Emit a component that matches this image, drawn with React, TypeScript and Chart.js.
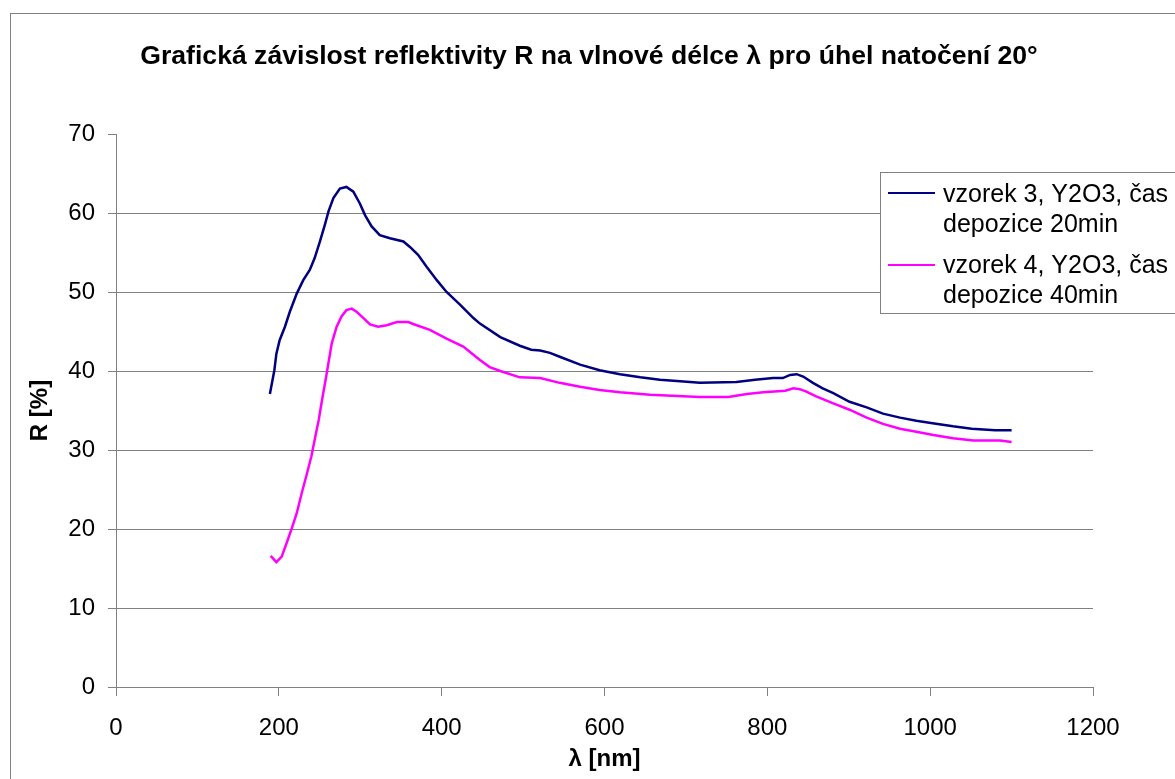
import React, { useEffect, useRef } from "react";
import { Chart, registerables } from "chart.js";

Chart.register(...registerables);

const FONT = "'Liberation Sans', Arial, Helvetica, sans-serif";

const titleText = "Grafická závislost reflektivity R na vlnové délce λ pro úhel natočení 20°";
const xAxisTitle = "λ [nm]";
const yAxisTitle = "R [%]";
const seriesNames: string[][] = [
  ["vzorek 3, Y2O3, čas", "depozice 20min"],
  ["vzorek 4, Y2O3, čas", "depozice 40min"],
];
const seriesColors = ["#000080", "#FF00FF"];

const xTicks = [0, 200, 400, 600, 800, 1000, 1200];
const yTicks = [0, 10, 20, 30, 40, 50, 60, 70];

// vzorek 3 (20 min)
const blueX = [
  189, 194.5, 197, 201, 207.5, 213.5, 222, 230, 238, 244, 250.5, 256.5, 261, 267, 275, 283,
  291.5, 299.5, 306, 314, 324, 336.5, 353, 361, 371, 381.5, 394, 406, 422.5, 439, 447, 472,
  496, 510, 521, 533, 545, 570, 594, 619, 644, 668, 693, 717, 762, 785, 807, 819, 828, 836,
  844, 856, 868, 881, 901, 922, 942, 963, 983, 1003, 1028, 1051, 1080, 1100,
];
const blueY = [
  37.1, 40.1, 42.2, 43.9, 45.6, 47.5, 49.8, 51.5, 52.8, 54.3, 56.4, 58.5, 60.2, 61.9, 63.1, 63.3,
  62.7, 61.2, 59.7, 58.3, 57.2, 56.8, 56.4, 55.7, 54.7, 53.2, 51.5, 50.0, 48.4, 46.7, 46.0, 44.3,
  43.2, 42.7, 42.6, 42.3, 41.8, 40.8, 40.1, 39.6, 39.2, 38.9, 38.7, 38.5, 38.6, 38.9, 39.1, 39.1, 39.5, 39.6,
  39.3, 38.5, 37.8, 37.2, 36.1, 35.4, 34.6, 34.1, 33.7, 33.4, 33.0, 32.7, 32.5, 32.5,
];

// vzorek 4 (40 min)
const pinkX = [
  190, 197, 203.5, 209.5, 216, 222, 228, 234, 240, 245, 249, 253, 258, 265, 271, 277, 283,
  289.5, 295.5, 304, 312, 322, 332.5, 345, 359, 365, 385.5, 406, 426.5, 447, 459, 472, 496,
  521, 545, 570, 594, 619, 656, 717, 752, 775, 795, 822, 832, 840, 848, 860, 881, 901, 922,
  942, 963, 983, 1004, 1028, 1053, 1086, 1100,
];
const pinkY = [
  16.6, 15.8, 16.5, 18.2, 20.1, 22.0, 24.5, 26.8, 29.2, 31.8, 33.8, 36.3, 39.2, 43.5, 45.6, 46.9, 47.7,
  47.9, 47.5, 46.7, 45.9, 45.6, 45.8, 46.2, 46.2, 45.95, 45.2, 44.1, 43.1, 41.4, 40.5, 40.0, 39.2,
  39.1, 38.5, 38.0, 37.6, 37.3, 37.0, 36.7, 36.7, 37.1, 37.3, 37.5, 37.8, 37.7, 37.4, 36.8, 35.9, 35.1, 34.1,
  33.3, 32.7, 32.3, 31.9, 31.5, 31.2, 31.2, 31.0,
];

const toPoints = (xs: number[], ys: number[]) => xs.map((x, i) => ({ x, y: ys[i] }));

const decorPlugin = {
  id: "decor",
  beforeDraw(chart: any) {
    const ctx = chart.ctx;
    ctx.save();
    ctx.fillStyle = "#ffffff";
    ctx.fillRect(0, 0, chart.width, chart.height);
    ctx.strokeStyle = "#808080";
    ctx.lineWidth = 1;
    ctx.strokeRect(10.5, 13.5, chart.width + 20, chart.height + 20);
    ctx.restore();
  },
  afterDraw(chart: any) {
    const ctx = chart.ctx;
    ctx.save();
    // title
    ctx.fillStyle = "#000";
    ctx.font = `bold 26.6px ${FONT}`;
    ctx.textAlign = "center";
    ctx.textBaseline = "alphabetic";
    ctx.fillText(titleText, 589, 64);
    // legend box
    ctx.fillStyle = "#ffffff";
    ctx.fillRect(880.5, 172.5, 320, 141);
    ctx.strokeStyle = "#808080";
    ctx.lineWidth = 1;
    ctx.strokeRect(880.5, 172.5, 320, 141);
    const entryTop = [193, 265];
    const baselines = [[201.7, 231.7], [272.7, 302.7]];
    ctx.font = `25px ${FONT}`;
    ctx.textAlign = "left";
    seriesNames.forEach((lines, i) => {
      ctx.strokeStyle = seriesColors[i];
      ctx.lineWidth = 2;
      ctx.beginPath();
      ctx.moveTo(888, entryTop[i]);
      ctx.lineTo(935, entryTop[i]);
      ctx.stroke();
      ctx.fillStyle = "#000";
      lines.forEach((t, j) => ctx.fillText(t, 943, baselines[i][j]));
    });
    ctx.restore();
  },
};

export default function App() {
  const ref = useRef<HTMLCanvasElement | null>(null);
  useEffect(() => {
    if (!ref.current) return;
    const chart = new Chart(ref.current, {
      type: "scatter",
      data: {
        datasets: [
          {
            label: seriesNames[0].join(" "),
            data: toPoints(blueX, blueY),
            showLine: true,
            borderColor: seriesColors[0],
            backgroundColor: seriesColors[0],
            borderWidth: 2.5,
            pointRadius: 0,
            tension: 0,
          },
          {
            label: seriesNames[1].join(" "),
            data: toPoints(pinkX, pinkY),
            showLine: true,
            borderColor: seriesColors[1],
            backgroundColor: seriesColors[1],
            borderWidth: 2.5,
            pointRadius: 0,
            tension: 0,
          },
        ],
      },
      options: {
        responsive: false,
        animation: false,
        devicePixelRatio: 1,
        layout: { padding: { left: 0, right: 82, top: 134, bottom: 0 } },
        plugins: {
          legend: { display: false },
          title: { display: false },
          tooltip: { enabled: false },
        },
        scales: {
          x: {
            type: "linear",
            min: 0,
            max: 1200,
            afterFit: (s: any) => {
              s.height = 92;
            },
            afterBuildTicks: (s: any) => {
              s.ticks = xTicks.map((v) => ({ value: v }));
            },
            ticks: {
              color: "#000",
              font: { family: FONT, size: 24 },
              padding: 18,
              maxRotation: 0,
              callback: (v: any) => String(v),
            },
            grid: {
              drawOnChartArea: false,
              drawTicks: true,
              tickLength: 9,
              tickColor: "#808080",
              color: "#808080",
            },
            border: { display: true, color: "#808080", width: 1 },
            title: {
              display: true,
              text: xAxisTitle,
              color: "#000",
              font: { family: FONT, size: 24, weight: "bold" },
              padding: { top: 0, bottom: 5 },
            },
          },
          y: {
            type: "linear",
            min: 0,
            max: 70,
            afterFit: (s: any) => {
              s.width = 116;
            },
            afterBuildTicks: (s: any) => {
              s.ticks = yTicks.map((v) => ({ value: v }));
            },
            ticks: {
              color: "#000",
              font: { family: FONT, size: 24 },
              padding: 13,
              callback: (v: any) => String(v),
            },
            grid: {
              drawOnChartArea: true,
              drawTicks: true,
              tickLength: 8,
              tickColor: "#808080",
              color: (c: any) => (c.tick && c.tick.value === 70 ? "rgba(0,0,0,0)" : "#808080"),
            },
            border: { display: true, color: "#808080", width: 1 },
            title: {
              display: true,
              text: yAxisTitle,
              color: "#000",
              font: { family: FONT, size: 24, weight: "bold" },
              padding: { top: 26, bottom: 0 },
            },
          },
        },
      },
      plugins: [decorPlugin],
    });
    return () => chart.destroy();
  }, []);

  return (
    <div style={{ position: "fixed", left: 0, top: 0, width: 1175, height: 779, background: "#fff" }}>
      <canvas ref={ref} width={1175} height={779} style={{ display: "block", width: 1175, height: 779 }} />
    </div>
  );
}
